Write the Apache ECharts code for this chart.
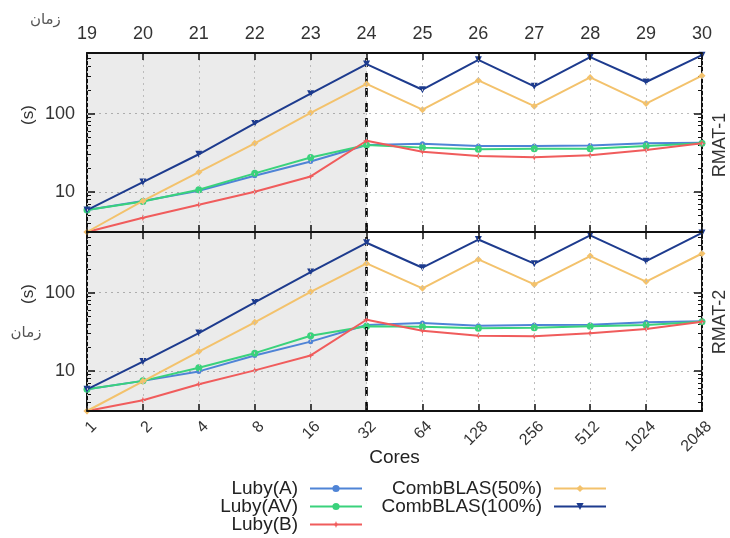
<!DOCTYPE html>
<html><head><meta charset="utf-8">
<script src="https://cdn.jsdelivr.net/npm/echarts@6/dist/echarts.min.js"></script>
<style>html,body{margin:0;padding:0;background:#fff}#c{width:730px;height:538px}</style>
</head><body><div id="c"></div>
<script>
// Categories
const scaleLabels = ['19','20','21','22','23','24','25','26','27','28','29','30'];
const coreLabels  = ['1','2','4','8','16','32','64','128','256','512','1024','2048'];
// Y tick values
const yMajorTicks = [10, 100];
const yMinorTicks = [4,5,6,7,8,9,20,30,40,50,60,70,80,90,200,300,400,500];
const yMin = 3.1, yMax = 590;

// RMAT-1 (top panel)
const r1_lubyA   = [5.9, 7.7, 10.4, 16.1, 24.5, 39.7, 41.3, 38.5, 38.5, 39.3, 41.7, 42.5];
const r1_lubyAV  = [5.9, 7.6, 10.7, 17.3, 27.5, 39.7, 36.8, 35.0, 35.6, 35.6, 38.5, 41.7];
const r1_lubyB   = [3.1, 4.7, 6.9, 10.1, 15.8, 45.0, 32.7, 28.8, 27.7, 29.4, 34.3, 41.7];
const r1_comb50  = [3.1, 7.7, 17.9, 41.7, 102, 238, 112, 264, 124, 288, 134, 303];
const r1_comb100 = [5.9, 13.4, 30.3, 74.7, 179, 426, 201, 483, 222, 522, 252, 553];
// RMAT-2 (bottom panel)
const r2_lubyA   = [5.85, 7.5, 9.9, 15.8, 23.7, 38.6, 40.8, 37.8, 38.6, 39.0, 41.7, 43.0];
const r2_lubyAV  = [5.85, 7.5, 11.0, 16.9, 28.2, 37.1, 36.7, 35.0, 35.6, 37.1, 38.6, 42.4];
const r2_lubyB   = [3.1, 4.25, 6.8, 10.2, 15.8, 45.0, 32.7, 28.2, 27.8, 30.3, 34.3, 42.4];
const r2_comb50  = [3.1, 7.4, 17.7, 41.7, 102, 235, 113, 264, 127, 291, 138, 314];
const r2_comb100 = [5.85, 13.2, 30.5, 74.7, 182, 430, 207, 473, 233, 535, 251, 575];

const seriesNames = ['Luby(A)','Luby(AV)','Luby(B)','CombBLAS(50%)','CombBLAS(100%)'];
const colors = ['#4f84d6','#3ad27c','#f05c5c','#f3c26c','#1d3b8e'];
const symbols = ['circle','circle','path://M0,-5L1.3,-1.3L5,0L1.3,1.3L0,5L-1.3,1.3L-5,0L-1.3,-1.3Z','diamond','triangle'];
const symbolSizes = [5, 7, 7, 7, 7];
const symbolRotates = [0, 0, 0, 0, 180];

const FONT = "'Liberation Sans', Arial, Helvetica, sans-serif";
const AR_FONT = "'DejaVu Sans', 'Noto Sans', sans-serif";

const chart = echarts.init(document.getElementById('c'), null, {renderer: 'canvas'});

const axisLine = {show: true, lineStyle: {color: '#111', width: 2}};
const dotted = {show: true, lineStyle: {color: '#bcbcbc', width: 1, type: [2, 4]}};

function xAxes(gridIndex, data, position) {
  return {
    type: 'category', gridIndex, data, boundaryGap: false, position,
    axisLine, axisTick: {show: true, inside: true, length: 7, interval: 0, lineStyle: {color: '#111', width: 1.5}},
    splitLine: {show: false}, z: 10
  };
}

function yAxesFor(gridIndex) {
  const common = {type: 'log', logBase: 10, gridIndex, min: yMin, max: yMax};
  return [
    Object.assign({}, common, {
      position: 'left', axisLine,
      axisTick: {show: true, inside: true, length: 8, customValues: yMajorTicks, lineStyle: {color: '#111', width: 1.5}},
      axisLabel: {show: true, customValues: yMajorTicks, margin: 12, fontSize: 18, color: '#333', fontFamily: FONT,
                  formatter: v => String(Math.round(v))},
      splitLine: {show: true, lineStyle: {color: '#bcbcbc', width: 1, type: [2, 4]}},
      minorTick: {show: false}
    }),
    Object.assign({}, common, {
      position: 'left', axisLine: {show: false},
      axisTick: {show: true, inside: true, length: 4, customValues: yMinorTicks, lineStyle: {color: '#111', width: 1}},
      axisLabel: {show: false}, splitLine: {show: false}
    }),
    Object.assign({}, common, {
      position: 'right', axisLine,
      axisTick: {show: true, inside: true, length: 8, customValues: yMajorTicks, lineStyle: {color: '#111', width: 1.5}},
      axisLabel: {show: false}, splitLine: {show: false}
    }),
    Object.assign({}, common, {
      position: 'right', axisLine: {show: false},
      axisTick: {show: true, inside: true, length: 4, customValues: yMinorTicks, lineStyle: {color: '#111', width: 1}},
      axisLabel: {show: false}, splitLine: {show: false}
    })
  ];
}

const panelData = [
  [r1_lubyA, r1_lubyAV, r1_lubyB, r1_comb50, r1_comb100],
  [r2_lubyA, r2_lubyAV, r2_lubyB, r2_comb50, r2_comb100]
];

const series = [];
[0, 1].forEach(p => {
  const xIdx = p === 0 ? 0 : 2;
  const yIdx = p === 0 ? 0 : 4;
  const cats = p === 0 ? scaleLabels : coreLabels;
  panelData[p].forEach((vals, i) => {
    const s = {
      type: 'line', name: seriesNames[i], xAxisIndex: xIdx, yAxisIndex: yIdx,
      data: vals, color: colors[i],
      symbol: symbols[i], symbolSize: symbolSizes[i], symbolRotate: symbolRotates[i],
      showAllSymbol: true,
      lineStyle: {width: 2, color: colors[i]},
      itemStyle: {color: colors[i]},
      z: 3 + i, animation: false, clip: true
    };
    if (i === 0) {
      s.markArea = {
        silent: true,
        itemStyle: {color: 'rgba(0,0,0,0.08)'},
        data: [[{xAxis: cats[0]}, {xAxis: cats[5]}]]
      };
      s.markLine = {
        silent: true, symbol: ['none', 'none'], label: {show: false},
        lineStyle: {color: '#000', width: 2.5, type: [9, 6]},
        data: [{xAxis: cats[5]}], animation: false
      };
    }
    series.push(s);
  });
});

function legendItem(name, right, top) {
  return {
    data: [name], right, top, orient: 'horizontal', align: 'right', padding: 0,
    itemWidth: 52, itemHeight: 9, itemGap: 0, selectedMode: false,
    textStyle: {fontSize: 19, color: '#222', fontFamily: FONT, padding: [0, 7, 0, 0]}
  };
}

const option = {
  backgroundColor: '#fff',
  animation: false,
  textStyle: {fontFamily: FONT},
  grid: [
    {left: 87, right: 28, top: 53, height: 179, show: true, backgroundColor: '#fff', borderWidth: 0},
    {left: 87, right: 28, top: 232, height: 179, show: true, backgroundColor: '#fff', borderWidth: 0}
  ],
  xAxis: [
    Object.assign(xAxes(0, scaleLabels, 'top'), {
      axisLabel: {show: true, interval: 0, margin: 10, fontSize: 18, color: '#333', fontFamily: FONT},
      splitLine: dotted
    }),
    Object.assign(xAxes(0, scaleLabels, 'bottom'), {axisLabel: {show: false}}),
    Object.assign(xAxes(1, coreLabels, 'bottom'), {
      axisLabel: {show: true, interval: 0, rotate: 45, margin: 6, fontSize: 16, color: '#333', fontFamily: FONT,
                  verticalAlign: 'top', lineHeight: 20},
      splitLine: dotted,
      name: 'Cores', nameLocation: 'middle', nameGap: 37, nameMoveOverlap: false,
      nameTextStyle: {fontSize: 19, color: '#222', fontFamily: FONT}
    }),
    Object.assign(xAxes(1, coreLabels, 'top'), {axisLabel: {show: false}})
  ],
  yAxis: yAxesFor(0).concat(yAxesFor(1)),
  legend: [
    legendItem('Luby(A)', 367, 479),
    legendItem('Luby(AV)', 367, 497),
    legendItem('Luby(B)', 367, 515),
    legendItem('CombBLAS(50%)', 123, 479),
    legendItem('CombBLAS(100%)', 123, 497)
  ],
  graphic: [
    {type: 'text', left: 30, top: 13, style: {text: 'زمان', font: '15px ' + AR_FONT, fill: '#555'}},
    {type: 'text', x: 28, y: 115, rotation: Math.PI / 2,
     style: {text: '(s)', font: '17px ' + FONT, fill: '#333', align: 'center', verticalAlign: 'middle'}},
    {type: 'text', x: 28, y: 294, rotation: Math.PI / 2,
     style: {text: '(s)', font: '17px ' + FONT, fill: '#333', align: 'center', verticalAlign: 'middle'}},
    {type: 'text', x: 26, y: 333,
     style: {text: 'زمان', font: '15px ' + AR_FONT, fill: '#555', align: 'center', verticalAlign: 'middle'}},
    {type: 'text', x: 720, y: 145, rotation: Math.PI / 2,
     style: {text: 'RMAT-1', font: '18px ' + FONT, fill: '#333', align: 'center', verticalAlign: 'middle'}},
    {type: 'text', x: 720, y: 322, rotation: Math.PI / 2,
     style: {text: 'RMAT-2', font: '18px ' + FONT, fill: '#333', align: 'center', verticalAlign: 'middle'}}
  ],
  series
};
chart.setOption(option);
</script>
</body></html>
